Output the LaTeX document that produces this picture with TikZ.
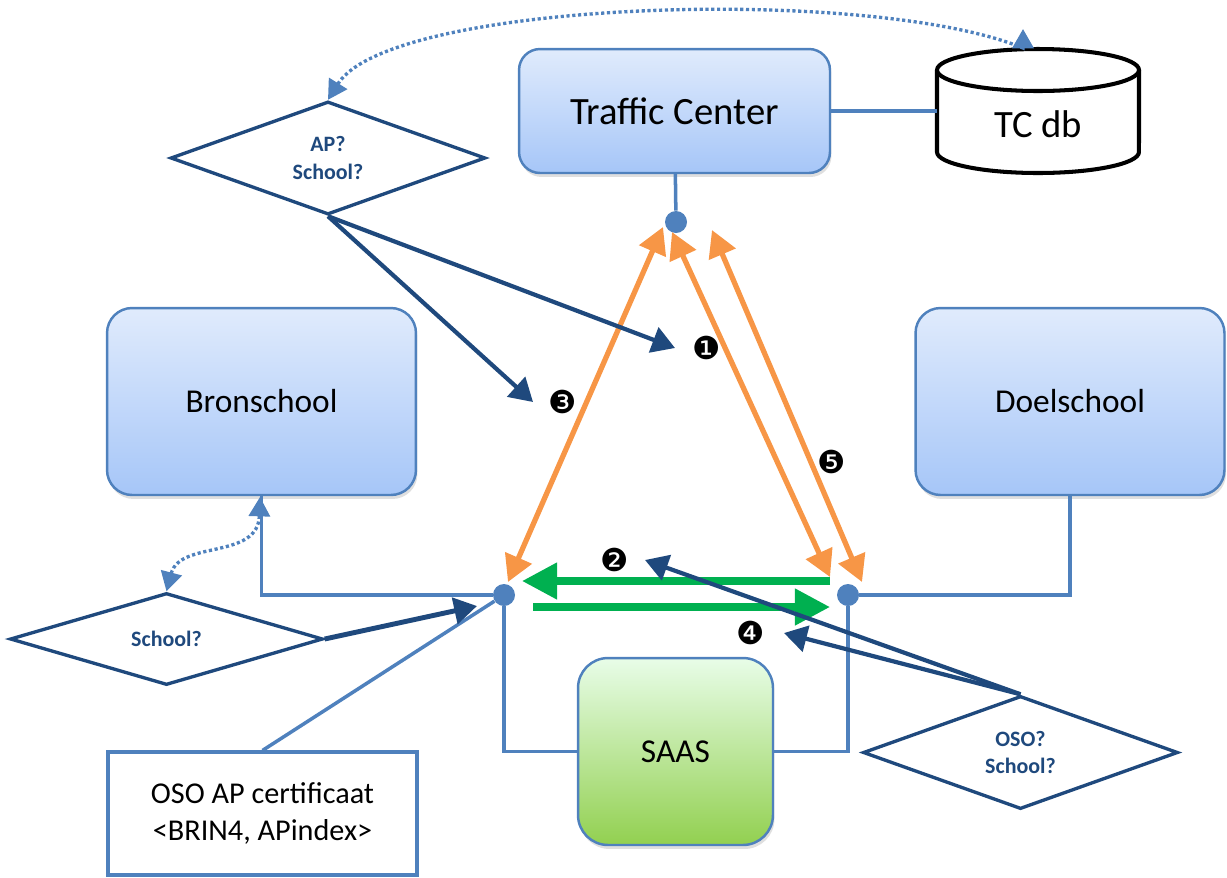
\documentclass[tikz,border=0pt]{standalone}
\usepackage{fontspec}
\setmainfont{Carlito}
\newfontfamily\cijfers{DejaVu Sans}
\usepackage{xcolor}
\usepackage{tikz}
\usetikzlibrary{positioning,arrows.meta,shapes.geometric,shadows}

\definecolor{lijnblauw}{HTML}{4F81BD}
\definecolor{donkerblauw}{HTML}{1F497D}
\definecolor{oranje}{HTML}{F79646}
\definecolor{groen}{HTML}{00B050}
\definecolor{blokboven}{HTML}{E0EBFC}
\definecolor{blokonder}{HTML}{A6C6F8}
\definecolor{saasboven}{HTML}{E8FDE8}
\definecolor{saasonder}{HTML}{92D050}

\begin{document}
\begin{tikzpicture}[x=0.02cm, y=-0.02cm,
	blok/.style={draw=lijnblauw, line width=1.4pt, rounded corners=0.5cm, top color=blokboven, bottom color=blokonder,
		drop shadow={opacity=0.25, shadow xshift=0.03cm, shadow yshift=-0.08cm}, font=\fontsize{19}{23}\selectfont},
	vraag/.style={diamond, draw=donkerblauw, line width=1.9pt, fill=white, inner sep=0pt, align=center,
		text=donkerblauw, font=\fontsize{12.5}{15.5}\selectfont\bfseries},
	knoop/.style={circle, fill=lijnblauw, inner sep=0pt, minimum size=0.44cm},
	lijn/.style={lijnblauw, line width=2pt},
	stip/.style={lijnblauw, line width=1.9pt, dash pattern=on 1.8pt off 1.5pt,
		{Triangle[length=11pt,width=12pt]}-{Triangle[length=11pt,width=12pt]}},
	oranjepijl/.style={oranje, line width=3pt, {Triangle[length=15pt,width=16pt]}-{Triangle[length=15pt,width=16pt]}},
	groenpijl/.style={groen, line width=4.3pt, -{Triangle[length=20pt,width=20pt]}},
	vraagpijl/.style={donkerblauw, line width=2.4pt, -{Triangle[length=13pt,width=15pt]}},
	nummer/.style={inner sep=0pt, font=\cijfers\fontsize{18}{18}\selectfont}]
	\useasboundingbox (0,0) rectangle (1227,877);

	% blokken
	\node[blok, rounded corners=0.42cm, minimum width=6.22cm, minimum height=2.48cm, font=\fontsize{22}{26}\selectfont] (tc) at (674.5,111) {Traffic Center};
	\node[blok, minimum width=6.18cm, minimum height=3.74cm] (bron) at (261.5,401.5) {Bronschool};
	\node[blok, minimum width=6.18cm, minimum height=3.74cm] (doel) at (1070,401.5) {Doelschool};
	\node[blok, rounded corners=0.6cm, top color=saasboven, bottom color=saasonder, minimum width=3.9cm, minimum height=3.74cm] (saas) at (675.5,751.5) {SAAS};
	\node[draw=lijnblauw, line width=1.8pt, fill=white, minimum width=6.18cm, minimum height=2.46cm, align=center,
		font=\fontsize{17.2}{21.5}\selectfont] (cert) at (262.5,813.5) {OSO AP certificaat\\<BRIN4, APindex>};

	% database
	\node[minimum width=4.04cm, minimum height=2.48cm, font=\fontsize{22}{26}\selectfont] (tcdb) at (1038,111) {};
	\draw[line width=2.3pt, fill=white] (937,70) -- (937,152) arc[start angle=180, end angle=360, x radius=2.02cm, y radius=0.42cm] -- (1139,70);
	\draw[line width=2.3pt, fill=white] (1038,70) ellipse[x radius=2.02cm, y radius=0.42cm];
	\node[font=\fontsize{22}{26}\selectfont] (tcdblabel) at (1038,124) {TC db};

	% vragen
	\node[vraag, minimum width=6.3cm, minimum height=1.8cm] (qap) at (328,158) {AP?\\School?};
	\node[vraag, minimum width=6.26cm, minimum height=1.84cm] (qschool) at (166.5,639) {School?};
	\node[vraag, minimum width=6.3cm, minimum height=1.82cm] (qoso) at (1020.5,752.5) {OSO?\\School?};

	% knooppunten
	\node[knoop] (jtc) at (676,222) {};
	\node[knoop] (jbron) at (504,595) {};
	\node[knoop] (jdoel) at (848,595) {};

	% verbindingen
	\draw[lijn] (tc) -- (jtc);
	\draw[lijn] (tc) -- (tcdb);
	\draw[lijn] (bron.south) -- (bron.south |- jbron) -- (jbron);
	\draw[lijn] (doel.south) |- (jdoel);
	\draw[lijn] (jbron) |- (saas.west);
	\draw[lijn] (jdoel) |- (saas.east);
	\draw[lijn] (jbron) -- (cert.north);

	% stippellijnen
	\coordinate (dbtop) at (1023,29);
	\coordinate (bronvoet) at (260,497);
	\draw[stip] (qap.north) .. controls (390,0) and (870,-15) .. (1023,48) -- (dbtop);
	\draw[stip] (qschool.north) .. controls (180,540) and (258,560) .. (bronvoet);

	% oranje pijlen
	\coordinate (o1a) at (508,582);
	\coordinate (o1b) at (663,227);
	\coordinate (o2a) at (672,232);
	\coordinate (o2b) at (830,577);
	\coordinate (o3a) at (712,230);
	\coordinate (o3b) at (862,582);
	\draw[oranjepijl] (o1a) -- (o1b);
	\draw[oranjepijl] (o2a) -- (o2b);
	\draw[oranjepijl] (o3a) -- (o3b);

	% groene pijlen
	\coordinate (g1a) at (830,581);
	\coordinate (g1b) at (522,581);
	\coordinate (g2a) at (533,607);
	\coordinate (g2b) at (830,607);
	\draw[groenpijl] (g1a) -- (g1b);
	\draw[groenpijl] (g2a) -- (g2b);

	% vraagpijlen
	\coordinate (p1) at (675,348);
	\coordinate (p2) at (645,560);
	\coordinate (p3) at (533,402);
	\coordinate (p4) at (784,633);
	\coordinate (pbron) at (477,606);
	\draw[vraagpijl] (qap.south) -- (p1);
	\draw[vraagpijl] (qap.south) -- (p3);
	\draw[vraagpijl] (qoso.north) -- (p2);
	\draw[vraagpijl] (qoso.north) -- (p4);
	\draw[vraagpijl, line width=2.8pt] (qschool.east) -- (pbron);

	% nummers
	\node[nummer] (n1) at (707,348) {❶};
	\node[nummer] (n2) at (615,560) {❷};
	\node[nummer] (n3) at (563,402) {❸};
	\node[nummer] (n4) at (751,633) {❹};
	\node[nummer] (n5) at (832,462) {❺};
\end{tikzpicture}
\end{document}
